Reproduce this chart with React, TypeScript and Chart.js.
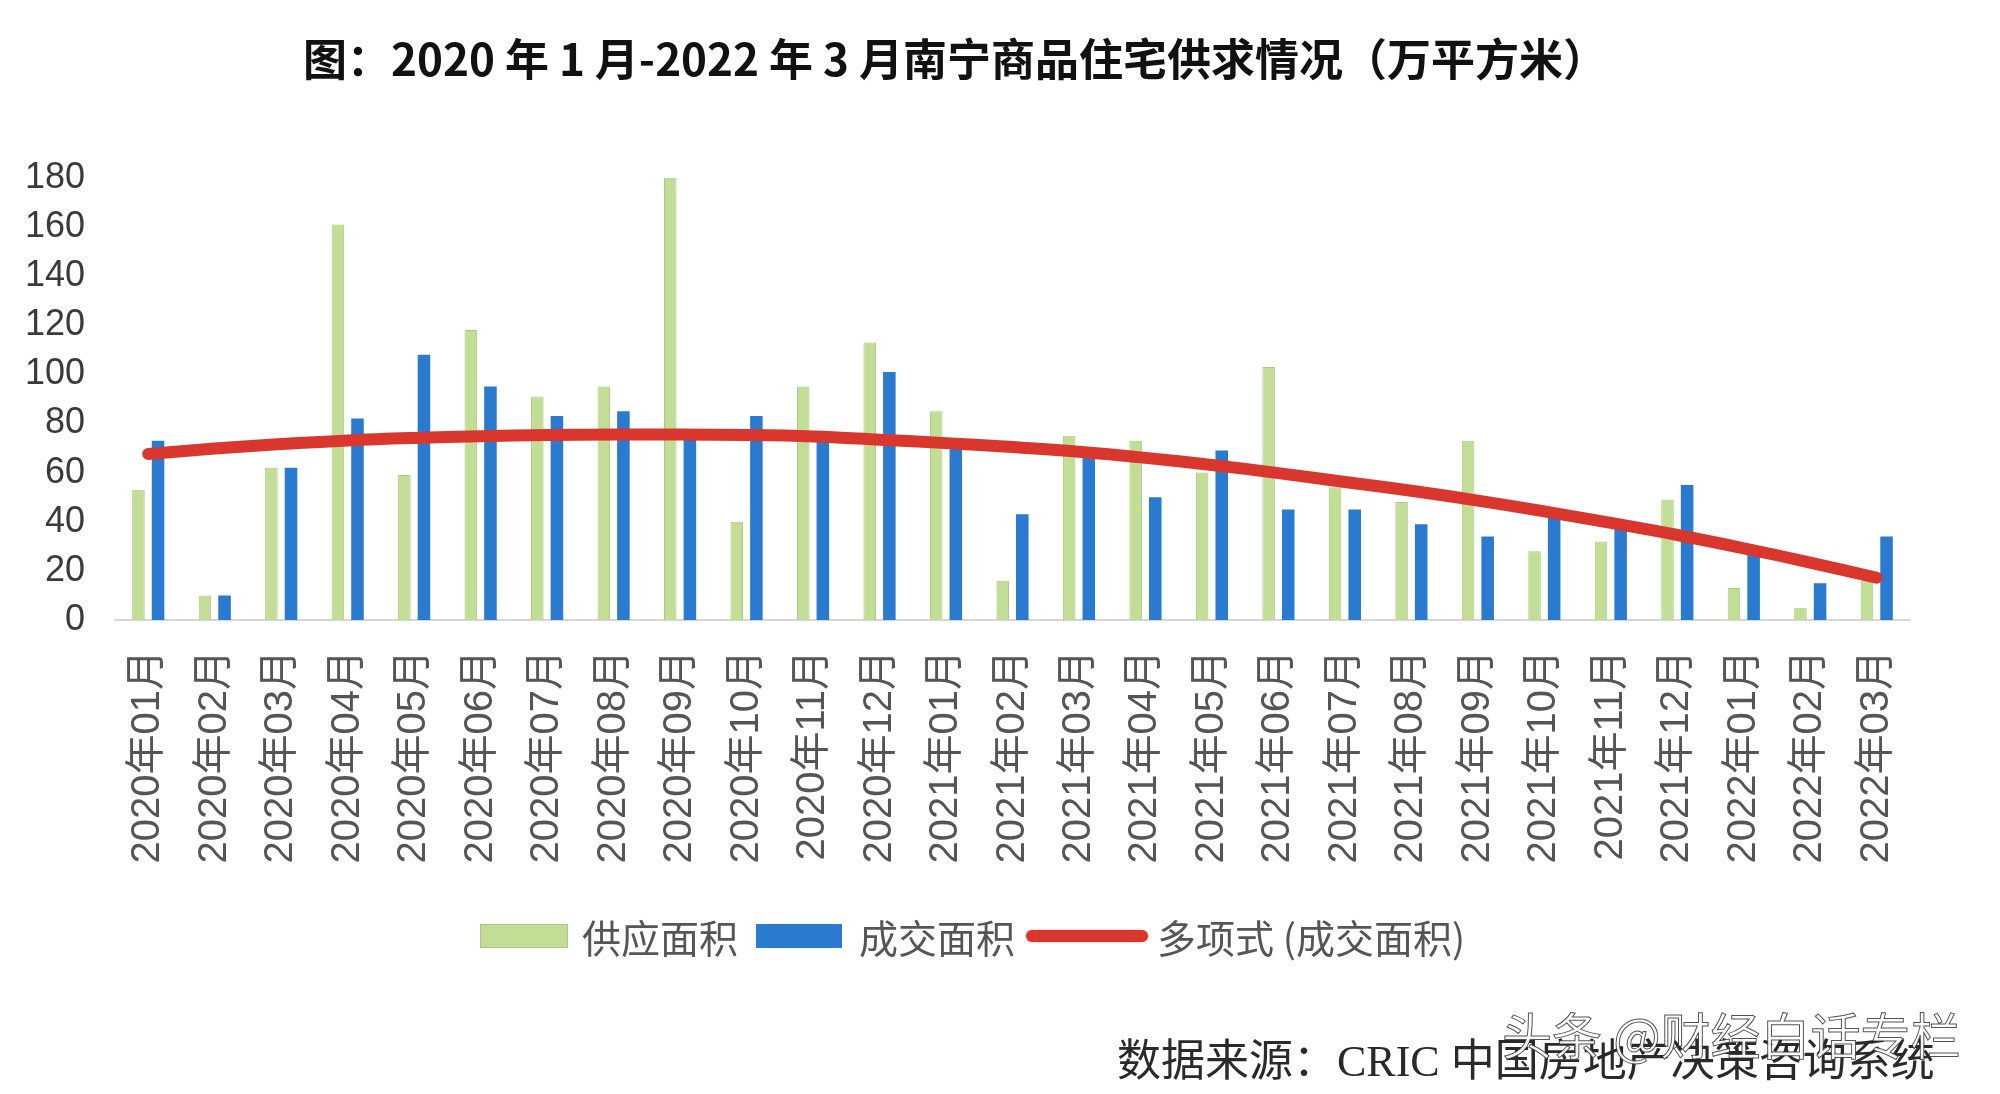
import React, { useEffect, useRef } from "react";
import { Chart, registerables } from "chart.js";

Chart.register(...registerables);

const titleText = "图：2020 年 1 月-2022 年 3 月南宁商品住宅供求情况（万平方米）";

const categories = [
  "2020年01月", "2020年02月", "2020年03月", "2020年04月", "2020年05月", "2020年06月",
  "2020年07月", "2020年08月", "2020年09月", "2020年10月", "2020年11月", "2020年12月",
  "2021年01月", "2021年02月", "2021年03月", "2021年04月", "2021年05月", "2021年06月",
  "2021年07月", "2021年08月", "2021年09月", "2021年10月", "2021年11月", "2021年12月",
  "2022年01月", "2022年02月", "2022年03月",
];

const supplyArea = [
  53, 10, 62, 161, 59, 118, 91, 95, 180, 40, 95, 113,
  85, 16, 75, 73, 60, 103, 54, 48, 73, 28, 32, 49,
  13, 5, 16,
];

const dealArea = [
  73, 10, 62, 82, 108, 95, 83, 85, 74, 83, 73, 101,
  70, 43, 67, 50, 69, 45, 45, 39, 34, 42, 38, 55,
  27, 15, 34,
];

const dealTrend = [
  67.6, 69.8, 71.6, 73.1, 74.1, 74.8, 75.3, 75.5, 75.5, 75.3, 74.7, 73.4,
  72.0, 70.4, 68.5, 66.0, 63.1, 59.8, 56.2, 52.6, 48.6, 44.2, 39.5, 34.6,
  29.2, 23.4, 17.2,
];

const yTicks = [0, 20, 40, 60, 80, 100, 120, 140, 160, 180];

const seriesNames = ["供应面积", "成交面积", "多项式 (成交面积)"];
const sourceText = "数据来源：CRIC 中国房地产决策咨询系统";
const watermarkText = "头条 @财经白话专栏";

const GREEN = "#c2dd95";
const GREEN_BORDER = "#aac97c";
const BLUE = "#2a7bd0";
const RED = "#d9362d";

export default function App() {
  const canvasRef = useRef<HTMLCanvasElement | null>(null);

  useEffect(() => {
    const canvas = canvasRef.current;
    if (!canvas) return;
    const chart = new Chart(canvas, {
      type: "bar",
      data: {
        labels: categories,
        datasets: [
          {
            type: "line",
            label: seriesNames[2],
            data: dealTrend,
            borderColor: RED,
            backgroundColor: RED,
            borderWidth: 12,
            borderCapStyle: "round",
            borderJoinStyle: "round",
            pointRadius: 0,
            tension: 0.4,
            order: 0,
          } as any,
          {
            type: "bar",
            label: seriesNames[0],
            data: supplyArea,
            backgroundColor: GREEN,
            borderColor: GREEN_BORDER,
            borderWidth: 1,
            categoryPercentage: 0.59,
            barPercentage: 0.64,
            order: 1,
          },
          {
            type: "bar",
            label: seriesNames[1],
            data: dealArea,
            backgroundColor: BLUE,
            borderColor: BLUE,
            borderWidth: 0,
            categoryPercentage: 0.59,
            barPercentage: 0.64,
            order: 1,
          },
        ],
      },
      options: {
        responsive: false,
        animation: false,
        layout: { padding: { left: 0, right: 90, top: 0, bottom: 224 } },
        plugins: {
          legend: { display: false },
          tooltip: { enabled: false },
          title: {
            display: true,
            text: titleText,
            color: "#111111",
            font: { family: '"Noto Sans CJK SC", "Liberation Sans", sans-serif', size: 44, weight: "bold" },
            padding: { top: 33, bottom: 92 },
          },
        },
        scales: {
          x: {
            grid: { display: false, drawTicks: false },
            border: { display: true, color: "#d6d6d6", width: 2 },
            ticks: {
              color: "#555555",
              font: { family: '"Liberation Sans", "Noto Sans CJK SC", sans-serif', size: 40 },
              minRotation: 90,
              maxRotation: 90,
              autoSkip: false,
              padding: 30,
            },
            afterFit: (scale: any) => {
              scale.height = 250;
            },
          },
          y: {
            min: 0,
            max: yTicks[yTicks.length - 1],
            grid: { display: false, drawTicks: false },
            border: { display: false },
            afterBuildTicks: (scale: any) => {
              scale.ticks = yTicks.map((v) => ({ value: v }));
            },
            ticks: {
              color: "#3a3a3a",
              font: { family: '"Liberation Sans", sans-serif', size: 36 },
              padding: 30,
            },
            afterFit: (scale: any) => {
              scale.width = 115;
            },
          },
        },
      },
    });
    return () => chart.destroy();
  }, []);

  const legendText: React.CSSProperties = {
    position: "absolute",
    top: 916,
    height: 40,
    lineHeight: "40px",
    fontSize: 39,
    fontFamily: '"Noto Sans CJK SC", "Liberation Serif", serif',
    color: "#555555",
    whiteSpace: "nowrap",
  };

  return (
    <div style={{ position: "fixed", left: 0, top: 0, width: 2000, height: 1094, background: "#ffffff", overflow: "hidden" }}>
      <canvas ref={canvasRef} width={2000} height={1094} style={{ position: "absolute", left: 0, top: 0 }} />
      <div style={{ position: "absolute", left: 480, top: 924, width: 88, height: 24, background: GREEN, boxSizing: "border-box", border: `1px solid ${GREEN_BORDER}` }} />
      <div style={{ ...legendText, left: 582 }}>{seriesNames[0]}</div>
      <div style={{ position: "absolute", left: 756, top: 924, width: 86, height: 24, background: BLUE }} />
      <div style={{ ...legendText, left: 859 }}>{seriesNames[1]}</div>
      <div style={{ position: "absolute", left: 1026, top: 930, width: 122, height: 12, borderRadius: 6, background: RED, boxShadow: "0 0 2px rgba(217,54,45,0.6)" }} />
      <div style={{ ...legendText, left: 1157 }}>{seriesNames[2]}</div>
      <div
        style={{
          position: "absolute",
          left: 1117,
          top: 1038,
          lineHeight: "48px",
          fontSize: 44,
          fontFamily: '"Liberation Serif", "Noto Sans CJK SC", serif',
          color: "#2a2a2a",
          whiteSpace: "nowrap",
        }}
      >
        {sourceText}
      </div>
      <div
        style={{
          position: "absolute",
          left: 1502,
          top: 1006,
          lineHeight: "54px",
          fontSize: 50,
          fontFamily: '"Noto Sans CJK SC", sans-serif',
          color: "rgba(255,255,255,0.92)",
          WebkitTextStroke: "1px rgba(40,40,40,0.8)",
          whiteSpace: "nowrap",
        }}
      >
        {watermarkText}
      </div>
    </div>
  );
}
